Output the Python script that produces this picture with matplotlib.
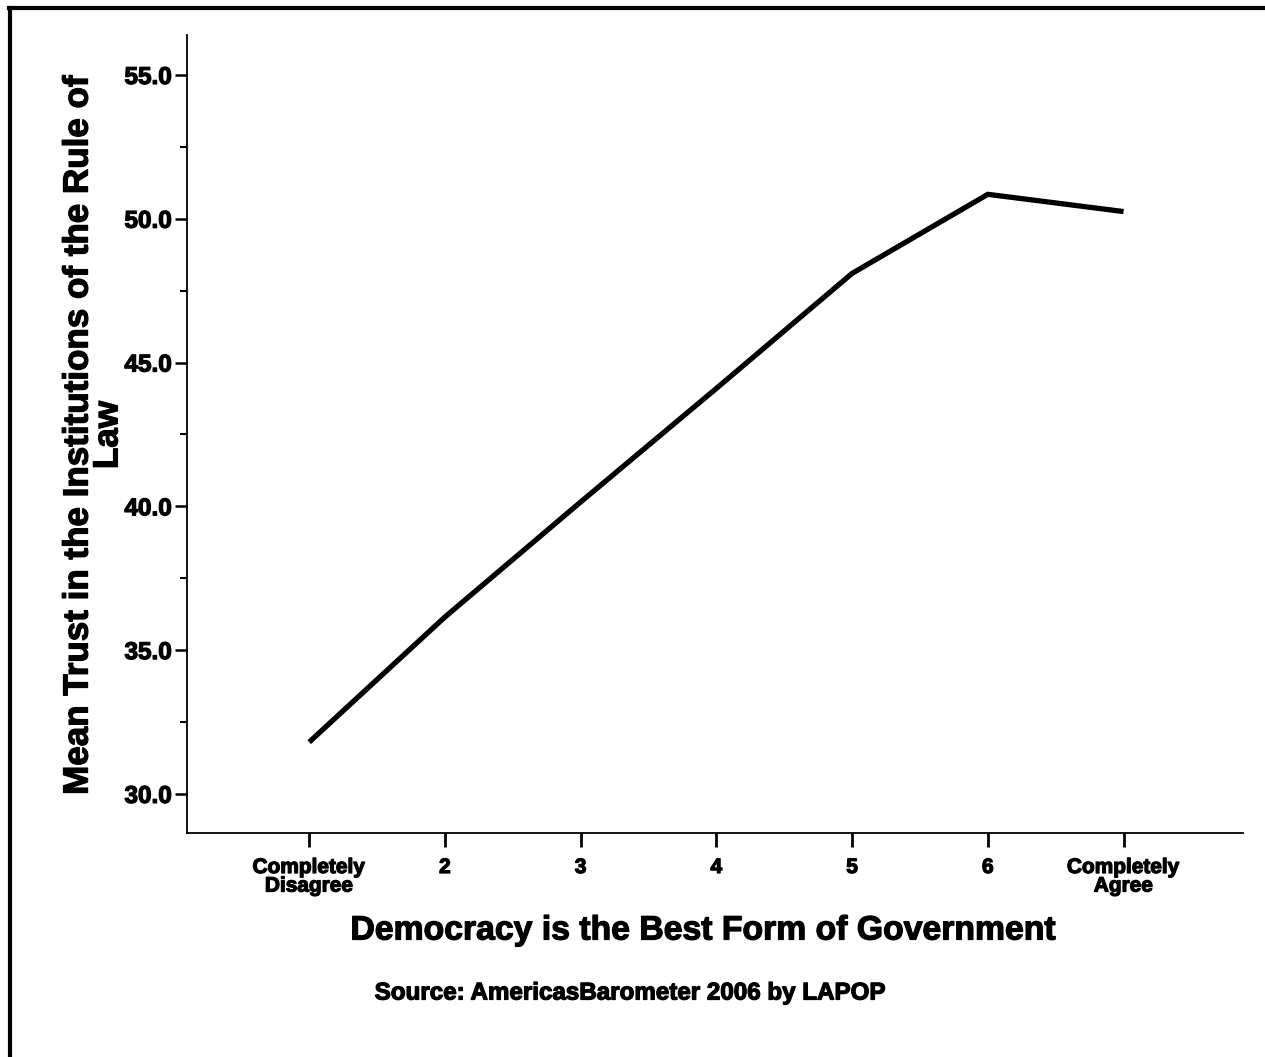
import matplotlib
matplotlib.use("Agg")
import matplotlib.pyplot as plt
from matplotlib.lines import Line2D
from matplotlib.ticker import MultipleLocator
import matplotlib.patheffects as pe

categories = [1, 2, 3, 4, 5, 6, 7]
tick_labels = ["Completely\nDisagree", "2", "3", "4", "5", "6", "Completely\nAgree"]
mean_trust = [31.8, 36.15, 40.15, 44.1, 48.1, 50.85, 50.25]
y_ticks = [30.0, 35.0, 40.0, 45.0, 50.0, 55.0]

FONT = "Liberation Sans"
plt.rcParams["font.family"] = [FONT, "DejaVu Sans"]
plt.rcParams["font.weight"] = "bold"

heavy = [pe.withStroke(linewidth=0.9, foreground="black")]

fig = plt.figure(figsize=(12.65, 10.57), dpi=100)
ax = fig.add_axes([187/1265, 1-833/1057, (1243-187)/1265, (833-35)/1057])

ax.plot(categories, mean_trust, color="black", linewidth=3.8, solid_capstyle="butt")

ax.set_xlim(0.10, 7.88)
ax.set_ylim(28.64, 56.39)
ax.set_xticks(categories)
ax.set_xticklabels(tick_labels, fontsize=15, fontweight="bold", linespacing=0.97)
ax.set_yticks(y_ticks)
ax.set_yticklabels([f"{v:.1f}" for v in y_ticks], fontsize=17.5, fontweight="bold")
ax.yaxis.set_minor_locator(MultipleLocator(2.5))
for lab in ax.get_xticklabels() + ax.get_yticklabels():
    lab.set_path_effects(heavy)

ax.tick_params(axis="y", which="major", length=9, width=1.8, pad=2)
ax.tick_params(axis="y", which="minor", length=5, width=1.5)
ax.tick_params(axis="x", which="major", length=10, width=2, pad=8)

for s in ["top", "right"]:
    ax.spines[s].set_visible(False)
for s in ["left", "bottom"]:
    ax.spines[s].set_linewidth(1.3)

fig.text(93/1265, 1-435/1057, "Mean Trust in the Institutions of the Rule of\nLaw",
         rotation=90, ha="center", va="center", fontsize=25.2, fontweight="bold",
         linespacing=0.88, multialignment="center", path_effects=heavy)
fig.text(703/1265, 1-931/1057, "Democracy is the Best Form of Government",
         ha="center", va="center", fontsize=24.3, fontweight="bold", path_effects=heavy)
fig.text(630/1265, 1-993/1057, "Source: AmericasBarometer 2006 by LAPOP",
         ha="center", va="center", fontsize=17.4, fontweight="bold", path_effects=heavy)

# partial frame around figure (top and left edges)
fig.add_artist(Line2D([9/1265, 1.0], [1-8/1057, 1-8/1057], color="black", linewidth=3,
                      transform=fig.transFigure))
fig.add_artist(Line2D([10/1265, 10/1265], [1-8/1057, 0.0], color="black", linewidth=3,
                      transform=fig.transFigure))

fig.savefig("out.png", dpi=100, facecolor="white")
